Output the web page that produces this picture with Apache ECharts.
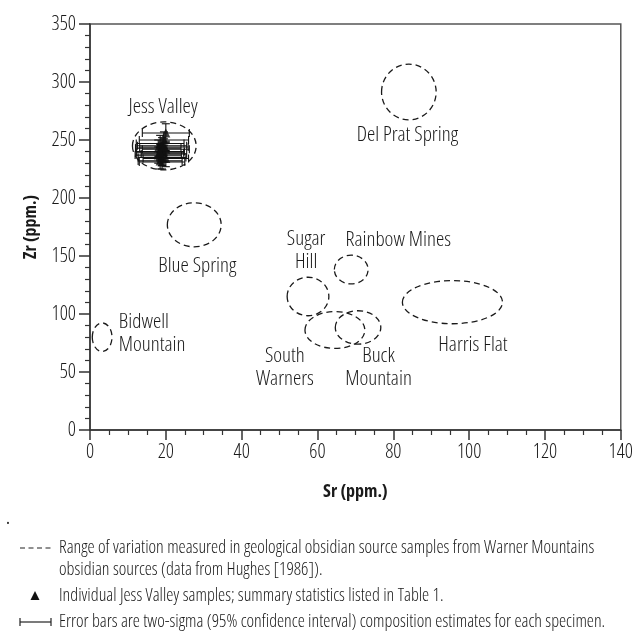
<!DOCTYPE html>
<html>
<head>
<meta charset="utf-8">
<script src="https://cdn.jsdelivr.net/npm/echarts@6/dist/echarts.min.js"></script>
<style>
html,body{margin:0;padding:0;background:#fff;}
#chart{width:636px;height:633px;}
</style>
</head>
<body>
<div id="chart"></div>
<script>
// ---- Data ----
// Obsidian source ranges (ellipses): centre and half-widths in ppm
const sourceNames = ['Jess Valley','Del Prat Spring','Blue Spring','Bidwell Mountain','Sugar Hill','Rainbow Mines','South Warners','Buck Mountain','Harris Flat'];
const sourceSr    = [19.6, 84.1, 27.5, 3.2, 57.5, 68.9, 64.6, 70.7, 95.6];
const sourceZr    = [244.9, 291.4, 176.9, 80.0, 115.1, 138.3, 86.2, 88.4, 110.2];
const sourceSrHalf = [8.4, 7.2, 7.1, 2.6, 5.5, 4.45, 7.9, 6.0, 13.2];
const sourceZrHalf = [20.7, 24.0, 19.0, 12.3, 16.6, 12.4, 15.9, 14.4, 18.6];

// Source name annotations (text, anchor in data units, alignment)
const labelTexts = ['Jess Valley','Del Prat Spring','Blue Spring','Bidwell\nMountain','Sugar\nHill','Rainbow Mines','South\nWarners','Buck\nMountain','Harris Flat'];
const labelSr    = [19.3, 83.7, 28.3, 7.6, 57.0, 81.3, 51.4, 76.1, 101.0];
const labelZr    = [278.3, 254.0, 141.0, 83.0, 154.7, 164.2, 53.6, 53.6, 73.5];
const labelAlign = ['center','center','center','left','center','center','center','center','center'];

// Individual Jess Valley samples with two-sigma errors
const jvSr    = [20, 19.5, 18.5, 19, 18, 20, 18.5, 19.5, 18, 19, 20, 18.5, 19.5, 18.5, 19];
const jvZr    = [256, 250, 247, 245, 243, 242, 240, 238, 237, 235, 234, 232, 244, 239, 231];
const jvSrErr = [6.2, 6.5, 6.3, 6.5, 6.0, 6.2, 6.4, 6.0, 6.1, 6.3, 6.0, 5.8, 6.4, 6.2, 6.0];
const jvZrErr = [8, 7, 7, 7, 7, 7, 7, 7, 7, 7, 7, 7, 7, 7, 6];

// Axis ticks
const xTicks = [0, 20, 40, 60, 80, 100, 120, 140];
const yTicks = [0, 50, 100, 150, 200, 250, 300, 350];

const legendLines = [
  'Range of variation measured in geological obsidian source samples from Warner Mountains',
  'obsidian sources (data from Hughes [1986]).',
  'Individual Jess Valley samples; summary statistics listed in Table 1.',
  'Error bars are two-sigma (95% confidence interval) composition estimates for each specimen.'
];

// ---- Chart ----
const FAM = "'Open Sans'";
const INK = '#1a1a1a';
const LIGHT = 300;
const legendFont = 'condensed ' + LIGHT + ' 18px ' + FAM;

const ellipseData = sourceNames.map((n, i) => ({name: n, value: [sourceSr[i], sourceZr[i], sourceSrHalf[i], sourceZrHalf[i]]}));
const labelData = labelTexts.map((t, i) => ({name: t, value: [labelSr[i], labelZr[i]], align: labelAlign[i]}));
const sampleData = jvSr.map((s, i) => [s, jvZr[i], jvSrErr[i], jvZrErr[i]]);

const chart = echarts.init(document.getElementById('chart'), null, {renderer: 'canvas'});

const tickFont = {fontFamily: FAM, fontStyle: 'condensed', fontWeight: LIGHT, fontSize: 20, color: INK};
const titleFont = {fontFamily: FAM, fontStyle: 'condensed', fontWeight: 'bold', fontSize: 18, color: INK};

chart.setOption({
  animation: false,
  backgroundColor: '#fff',
  grid: {left: 90, right: 11, top: 24, bottom: 203, show: true, borderColor: '#555', borderWidth: 1.5, containLabel: false},
  xAxis: {
    type: 'value', min: xTicks[0], max: xTicks[xTicks.length - 1], interval: xTicks[1] - xTicks[0],
    name: 'Sr (ppm.)', nameLocation: 'middle', nameGap: 53,
    nameTextStyle: titleFont,
    axisLine: {lineStyle: {color: '#333', width: 1.5}},
    axisTick: {show: true, length: 10, lineStyle: {color: '#333', width: 1.5}},
    minorTick: {show: true, splitNumber: 4, length: 5, lineStyle: {color: '#333', width: 1.2}},
    splitLine: {show: false},
    axisLabel: Object.assign({margin: 12}, tickFont)
  },
  yAxis: {
    type: 'value', min: yTicks[0], max: yTicks[yTicks.length - 1], interval: yTicks[1] - yTicks[0],
    name: 'Zr (ppm.)', nameLocation: 'middle', nameGap: 50, nameRotate: 90,
    nameTextStyle: titleFont,
    axisLine: {lineStyle: {color: '#333', width: 1.5}},
    axisTick: {show: true, length: 11, lineStyle: {color: '#333', width: 1.5}},
    minorTick: {show: true, splitNumber: 5, length: 5, lineStyle: {color: '#333', width: 1.2}},
    splitLine: {show: false},
    axisLabel: Object.assign({margin: 14}, tickFont)
  },
  series: [
    {
      type: 'custom', name: 'ranges', data: ellipseData, clip: false,
      renderItem: function (params, api) {
        const c = api.coord([api.value(0), api.value(1)]);
        const s = api.size([api.value(2), api.value(3)]);
        return {type: 'ellipse', shape: {cx: c[0], cy: c[1], rx: s[0], ry: s[1]},
          style: {fill: null, stroke: '#1a1a1a', lineWidth: 1.3, lineDash: [6, 4]}};
      }
    },
    {
      type: 'custom', name: 'errors', data: sampleData,
      renderItem: function (params, api) {
        const x = api.value(0), y = api.value(1), ex = api.value(2), ey = api.value(3);
        const l = api.coord([x - ex, y]), r = api.coord([x + ex, y]);
        const t = api.coord([x, y + ey]), b = api.coord([x, y - ey]);
        const st = {stroke: '#111', lineWidth: 1.1};
        const cap = 4;
        return {type: 'group', children: [
          {type: 'line', shape: {x1: l[0], y1: l[1], x2: r[0], y2: r[1]}, style: st},
          {type: 'line', shape: {x1: l[0], y1: l[1] - cap, x2: l[0], y2: l[1] + cap}, style: st},
          {type: 'line', shape: {x1: r[0], y1: r[1] - cap, x2: r[0], y2: r[1] + cap}, style: st},
          {type: 'line', shape: {x1: t[0], y1: t[1], x2: b[0], y2: b[1]}, style: st},
          {type: 'line', shape: {x1: t[0] - cap, y1: t[1], x2: t[0] + cap, y2: t[1]}, style: st},
          {type: 'line', shape: {x1: b[0] - cap, y1: b[1], x2: b[0] + cap, y2: b[1]}, style: st}
        ]};
      }
    },
    {
      type: 'scatter', name: 'samples', data: sampleData.map(d => [d[0], d[1]]),
      symbol: 'triangle', symbolSize: [9, 9], itemStyle: {color: '#111'}
    },
    {
      type: 'custom', name: 'labels', data: labelData, clip: false,
      renderItem: function (params, api) {
        const c = api.coord([api.value(0), api.value(1)]);
        const d = labelData[params.dataIndex];
        return {type: 'text', x: c[0], y: c[1],
          style: {text: d.name, fill: INK, font: 'condensed ' + LIGHT + ' 21px ' + FAM, align: d.align, verticalAlign: 'middle', lineHeight: 23}};
      }
    }
  ],
  graphic: [
    {type: 'text', left: 6, top: 510, style: {text: '.', fill: INK, font: 'condensed 18px ' + FAM}},
    {type: 'line', shape: {x1: 20, y1: 548, x2: 53, y2: 548}, style: {stroke: '#222', lineWidth: 1.2, lineDash: [5, 3.5]}},
    {type: 'text', x: 59, y: 548, style: {text: legendLines[0], fill: INK, font: legendFont, verticalAlign: 'middle'}},
    {type: 'text', x: 59, y: 570, style: {text: legendLines[1], fill: INK, font: legendFont, verticalAlign: 'middle'}},
    {type: 'polygon', shape: {points: [[35, 591], [30.5, 600], [39.5, 600]]}, style: {fill: '#111'}},
    {type: 'text', x: 59, y: 596, style: {text: legendLines[2], fill: INK, font: legendFont, verticalAlign: 'middle'}},
    {type: 'line', shape: {x1: 20, y1: 622, x2: 51, y2: 622}, style: {stroke: '#222', lineWidth: 1.2}},
    {type: 'line', shape: {x1: 20, y1: 618, x2: 20, y2: 626}, style: {stroke: '#222', lineWidth: 1.2}},
    {type: 'line', shape: {x1: 51, y1: 618, x2: 51, y2: 626}, style: {stroke: '#222', lineWidth: 1.2}},
    {type: 'text', x: 59, y: 622, style: {text: legendLines[3], fill: INK, font: legendFont, verticalAlign: 'middle'}}
  ]
});
</script>
</body>
</html>
